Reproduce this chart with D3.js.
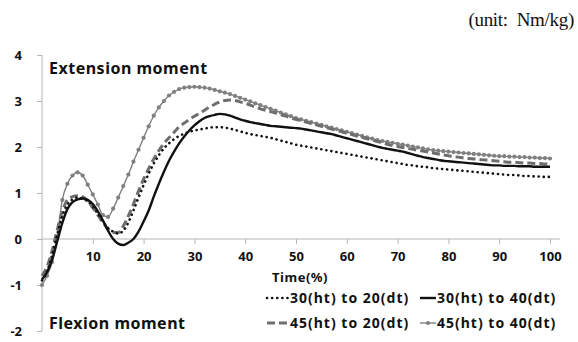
<!DOCTYPE html>
<html>
<head>
<meta charset="utf-8">
<script src="https://cdn.jsdelivr.net/npm/d3@7"></script>
<style>
  body { margin: 0; background: #fff; }
  svg { display: block; }
  text { font-family: "Noto Sans", "Open Sans", sans-serif; font-weight: bold; fill: #111; }
</style>
</head>
<body>
<div id="chart"></div>
<script>
// time axis (% of cycle), one sample per percent
var timePct = d3.range(0, 101)
var xTicks = [10, 20, 30, 40, 50, 60, 70, 80, 90, 100]
var yTicks = [-2, -1, 0, 1, 2, 3, 4]

var seriesNames = ["30(ht) to 20(dt)", "30(ht) to 40(dt)", "45(ht) to 20(dt)", "45(ht) to 40(dt)"]

// 30(ht) to 20(dt) - dotted
var ht30dt20 = [-0.9,-0.7,-0.35,0.1,0.5,0.75,0.86,0.9,0.88,0.82,
  0.7,0.55,0.38,0.24,0.16,0.12,0.18,0.36,0.62,0.9,
  1.17,1.42,1.64,1.82,1.97,2.08,2.17,2.24,2.29,2.33,
  2.36,2.38,2.4,2.42,2.43,2.43,2.42,2.4,2.37,2.34,
  2.31,2.28,2.26,2.24,2.22,2.2,2.17,2.14,2.11,2.08,
  2.05,2.03,2.01,1.99,1.97,1.95,1.93,1.91,1.89,1.87,
  1.85,1.83,1.81,1.79,1.77,1.75,1.73,1.71,1.69,1.67,
  1.65,1.63,1.61,1.6,1.58,1.57,1.56,1.54,1.53,1.52,
  1.51,1.5,1.49,1.48,1.47,1.46,1.45,1.44,1.43,1.42,
  1.41,1.4,1.39,1.39,1.38,1.37,1.37,1.36,1.36,1.35,1.35]

// 30(ht) to 40(dt) - solid
var ht30dt40 = [-0.88,-0.72,-0.45,-0.05,0.35,0.65,0.8,0.86,0.88,0.85,
  0.76,0.6,0.4,0.18,0.0,-0.1,-0.13,-0.08,0.0,0.16,
  0.38,0.62,0.92,1.2,1.46,1.7,1.9,2.08,2.23,2.36,
  2.47,2.56,2.63,2.67,2.7,2.72,2.71,2.68,2.64,2.6,
  2.57,2.54,2.52,2.5,2.48,2.46,2.45,2.44,2.43,2.42,
  2.41,2.4,2.38,2.36,2.34,2.32,2.3,2.28,2.25,2.22,
  2.19,2.16,2.13,2.1,2.07,2.04,2.01,1.98,1.96,1.94,
  1.92,1.9,1.87,1.84,1.81,1.78,1.76,1.74,1.72,1.7,
  1.69,1.68,1.67,1.66,1.65,1.64,1.63,1.62,1.61,1.6,
  1.6,1.59,1.59,1.59,1.58,1.58,1.58,1.57,1.57,1.57,1.57]

// 45(ht) to 20(dt) - dashed
var ht45dt20 = [-0.8,-0.6,-0.25,0.2,0.6,0.85,0.92,0.94,0.92,0.82,
  0.68,0.52,0.36,0.22,0.14,0.14,0.28,0.5,0.76,1.04,
  1.3,1.53,1.74,1.92,2.08,2.2,2.32,2.44,2.52,2.6,
  2.67,2.73,2.8,2.87,2.93,2.98,3.01,3.02,3.01,2.98,
  2.95,2.91,2.87,2.83,2.8,2.77,2.74,2.7,2.67,2.63,
  2.6,2.57,2.54,2.51,2.48,2.45,2.42,2.39,2.36,2.33,
  2.3,2.27,2.24,2.21,2.18,2.15,2.12,2.09,2.06,2.03,
  2.01,1.99,1.97,1.95,1.93,1.91,1.89,1.87,1.85,1.83,
  1.81,1.79,1.78,1.76,1.75,1.74,1.73,1.72,1.71,1.7,
  1.69,1.68,1.67,1.67,1.66,1.65,1.65,1.64,1.64,1.63,1.63]

// 45(ht) to 40(dt) - thin line with markers
var ht45dt40 = [-1.0,-0.8,-0.5,0.05,0.85,1.2,1.38,1.45,1.38,1.18,
  0.97,0.75,0.52,0.48,0.66,0.9,1.15,1.4,1.68,1.94,
  2.2,2.45,2.68,2.86,3.0,3.12,3.2,3.26,3.29,3.3,
  3.31,3.3,3.29,3.27,3.24,3.21,3.18,3.15,3.11,3.07,
  3.03,2.99,2.95,2.91,2.87,2.83,2.79,2.75,2.71,2.67,
  2.63,2.6,2.57,2.54,2.51,2.48,2.45,2.42,2.39,2.36,
  2.33,2.3,2.27,2.24,2.21,2.18,2.15,2.13,2.11,2.09,
  2.07,2.05,2.03,2.01,1.99,1.97,1.95,1.93,1.92,1.91,
  1.9,1.89,1.88,1.87,1.86,1.85,1.84,1.83,1.82,1.81,
  1.8,1.8,1.79,1.79,1.78,1.78,1.77,1.77,1.76,1.76,1.75]

var width = 578
var height = 342

var svg = d3.select("#chart").append("svg").attr("width", width).attr("height", height)

var xScale = d3.scaleLinear().domain([0, 100]).range([42, 550])
var yScale = d3.scaleLinear().domain([-2, 4]).range([331, 55])

// y axis
var yAxis = svg.append("g")
  .attr("transform", "translate(" + xScale(0) + ",0)")
  .call(d3.axisLeft(yScale).tickValues(yTicks).tickSize(5).tickPadding(15).tickFormat(function(d) { return String(d) }))
yAxis.select(".domain").attr("stroke", "#b5b5b5").attr("d", "M0," + yScale(4) + "V" + yScale(-2))
yAxis.selectAll(".tick line").attr("stroke", "#b5b5b5")
yAxis.selectAll(".tick text").attr("font-size", "13px").attr("font-family", null).attr("fill", "#111")

// x axis sits on zero
var xAxis = svg.append("g")
  .attr("transform", "translate(0," + yScale(0) + ")")
  .call(d3.axisBottom(xScale).tickValues(xTicks).tickSize(5).tickPadding(8))
xAxis.select(".domain").attr("stroke", "#b5b5b5").attr("d", "M" + xScale(0) + ",0H560")
xAxis.selectAll(".tick line").attr("stroke", "#b5b5b5")
xAxis.selectAll(".tick text").attr("font-size", "13px").attr("font-family", null).attr("fill", "#111")

svg.append("text").attr("x", 300).attr("y", 282).attr("text-anchor", "middle")
  .attr("font-size", "13px").attr("letter-spacing", "0.5px").text("Time(%)")

svg.append("text").attr("x", 49).attr("y", 74).attr("font-size", "16px").attr("letter-spacing", "0.5px").text("Extension moment")
svg.append("text").attr("x", 49).attr("y", 329).attr("font-size", "16px").attr("letter-spacing", "0.5px").text("Flexion moment")

svg.append("text").attr("x", 574).attr("y", 26).attr("text-anchor", "end")
  .style("font-family", "'Liberation Serif', 'DejaVu Serif', serif").style("font-weight", "normal")
  .attr("font-size", "19px").attr("letter-spacing", "-0.3px").attr("xml:space", "preserve").text("(unit:  Nm/kg)")

// line styles per series
var styles = [
  { data: ht30dt20, stroke: "#111", width: 2.6, dash: "0.1 5", cap: "round" },
  { data: ht30dt40, stroke: "#111", width: 2.4, dash: null, cap: "butt" },
  { data: ht45dt20, stroke: "#6e6e6e", width: 3, dash: "8 4", cap: "butt" },
  { data: ht45dt40, stroke: "#808080", width: 1.4, dash: null, cap: "butt", marker: true }
]

var line = d3.line()
  .x(function(d, i) { return xScale(timePct[i]) })
  .y(function(d) { return yScale(d) })
  .curve(d3.curveMonotoneX)

// draw back to front: marker series, dashed, dotted, solid
var order = [3, 2, 0, 1]
order.forEach(function(k) {
  var s = styles[k]
  svg.append("path")
    .datum(s.data)
    .attr("d", line)
    .attr("fill", "none")
    .attr("stroke", s.stroke)
    .attr("stroke-width", s.width)
    .attr("stroke-dasharray", s.dash)
    .attr("stroke-linecap", s.cap)
  if (s.marker) {
    svg.selectAll(".marks")
      .data(s.data)
      .enter().append("circle")
      .attr("cx", function(d, i) { return xScale(timePct[i]) })
      .attr("cy", function(d) { return yScale(d) })
      .attr("r", 2.1)
      .attr("fill", s.stroke)
  }
})

// legend
var legendPos = [
  { x: 267, y: 298 }, { x: 420, y: 298 },
  { x: 267, y: 323 }, { x: 420, y: 323 }
]
var lineLen = [22, 16, 22, 16]
seriesNames.forEach(function(name, i) {
  var s = styles[i], p = legendPos[i]
  svg.append("line")
    .attr("x1", p.x).attr("x2", p.x + lineLen[i])
    .attr("y1", p.y).attr("y2", p.y)
    .attr("stroke", s.stroke)
    .attr("stroke-width", s.width)
    .attr("stroke-dasharray", s.dash)
    .attr("stroke-linecap", s.cap)
  if (s.marker) {
    svg.append("circle").attr("cx", p.x + lineLen[i] / 2).attr("cy", p.y).attr("r", 2.1).attr("fill", s.stroke)
  }
  svg.append("text")
    .attr("x", p.x + lineLen[i] + 1)
    .attr("y", p.y + 5)
    .attr("font-size", "14px")
    .attr("letter-spacing", "1px")
    .text(name)
})
</script>
</body>
</html>
